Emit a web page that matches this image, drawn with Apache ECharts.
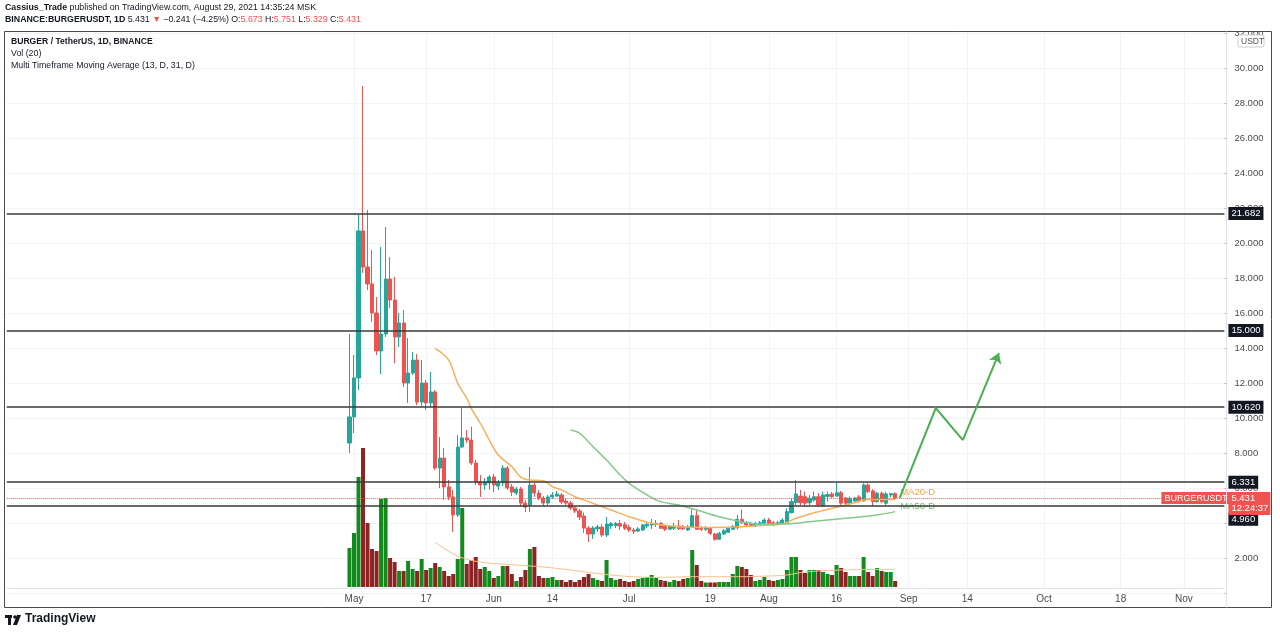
<!DOCTYPE html>
<html><head><meta charset="utf-8">
<script src="https://cdn.jsdelivr.net/npm/echarts@6/dist/echarts.min.js"></script>
<style>html,body{margin:0;padding:0;background:#fff;overflow:hidden}#c{width:1280px;height:633px}</style>
</head><body><div id="c"></div>
<script>
// ---- axis domain ----
const axisStart = '2021-02-13';
const axisDays = 271;
const firstCandle = '2021-04-30';
const timeTicks = [['2021-05-01','May'],['2021-05-17','17'],['2021-06-01','Jun'],['2021-06-14','14'],
  ['2021-07-01','Jul'],['2021-07-19','19'],['2021-08-01','Aug'],['2021-08-16','16'],['2021-09-01','Sep'],
  ['2021-09-14','14'],['2021-10-01','Oct'],['2021-10-18','18'],['2021-11-01','Nov']];

// ---- daily candles from 2021-04-30 to 2021-08-29 ----
const open = [8.57,10.06,12.29,20.69,18.63,17.66,16.00,13.83,14.80,17.94,16.74,14.63,15.43,12.00,12.57,13.31,10.91,12.00,10.86,11.49,
  7.14,7.71,6.06,5.49,4.46,8.34,8.86,8.74,7.43,6.34,6.17,6.29,6.63,6.11,6.29,7.14,6.06,5.71,5.94,5.14,
  5.03,6.17,5.71,5.43,5.14,5.49,5.54,5.60,5.26,5.14,4.86,4.69,4.40,3.71,3.37,3.66,3.77,3.31,3.83,3.85,
  3.97,3.90,3.75,3.60,3.54,3.60,3.83,3.89,3.92,3.98,3.81,3.65,3.70,3.83,3.79,3.60,3.77,4.42,3.73,3.64,
  3.70,3.37,3.07,3.37,3.47,3.64,3.73,4.21,4.02,3.98,3.83,3.92,3.98,4.17,4.02,3.94,3.98,4.02,4.59,5.17,
  5.54,5.50,5.16,5.31,5.50,4.97,5.52,5.66,5.54,5.73,5.43,5.13,5.26,5.49,5.27,6.17,5.83,5.22,5.70,5.13,
  5.60,5.673];
const high = [14.80,13.60,21.60,28.97,21.89,19.60,16.91,19.77,20.91,19.20,18.06,16.00,16.17,14.57,13.77,13.66,13.31,12.17,12.63,11.60,
  8.91,8.29,6.46,5.89,9.03,10.57,9.31,9.49,7.60,6.74,6.57,6.74,6.80,6.46,7.31,7.26,6.23,6.06,6.06,5.31,
  7.20,6.29,5.89,5.54,5.60,5.77,5.83,5.71,5.37,5.26,4.97,4.80,4.60,3.83,3.83,3.89,3.94,4.34,4.06,4.06,
  4.17,4.06,3.89,3.71,3.77,3.94,4.00,4.23,4.17,4.06,3.89,3.89,4.00,4.17,3.89,3.89,4.78,4.74,3.83,3.83,
  3.77,3.43,3.49,3.66,3.77,3.89,4.46,4.78,4.11,4.06,4.07,4.11,4.27,4.29,4.11,4.11,4.27,4.84,5.41,6.46,
  5.89,5.79,5.60,5.79,5.70,5.79,5.79,5.77,6.30,5.83,5.49,5.50,5.49,5.60,6.27,6.27,5.93,5.77,5.79,5.79,
  5.73,5.751];
const low = [8.00,9.14,11.60,18.29,17.31,15.49,13.60,12.51,14.63,16.29,13.14,14.06,11.77,10.86,12.46,10.74,10.69,10.46,10.63,7.03,
  6.00,5.31,5.31,3.49,4.34,8.29,8.57,7.31,6.17,5.49,5.89,5.89,5.77,5.89,6.11,5.89,5.54,5.60,4.91,4.63,
  4.63,5.49,5.31,4.97,5.03,5.37,5.49,5.09,5.03,4.74,4.57,4.17,3.43,2.91,3.09,3.49,3.20,3.20,3.66,3.71,
  3.60,3.60,3.49,3.37,3.49,3.54,3.71,3.66,3.77,3.66,3.54,3.60,3.60,3.60,3.60,3.54,3.70,3.60,3.54,3.54,
  3.31,2.99,3.03,3.31,3.43,3.60,3.64,3.94,3.83,3.77,3.79,3.83,3.89,3.89,3.83,3.89,3.94,3.98,4.55,5.03,
  5.03,4.93,5.03,5.22,4.93,4.91,5.22,5.43,5.49,5.03,4.97,5.03,5.14,5.16,5.22,5.70,4.97,5.16,5.13,5.03,
  5.47,5.329];
const close = [10.06,12.29,20.69,18.63,17.66,16.00,13.83,14.80,17.94,16.74,14.63,15.43,12.00,12.57,13.31,10.91,12.00,10.86,11.49,7.14,
  7.71,6.06,5.49,4.46,8.34,8.86,8.74,7.43,6.34,6.17,6.34,6.63,6.17,6.29,7.14,6.00,5.77,5.94,5.14,4.91,
  6.17,5.71,5.43,5.14,5.49,5.60,5.66,5.20,5.14,4.86,4.69,4.34,3.71,3.37,3.71,3.77,3.31,3.94,3.96,3.97,
  3.82,3.70,3.60,3.53,3.66,3.89,3.93,3.94,3.98,3.70,3.64,3.79,3.83,3.67,3.67,3.79,4.42,3.64,3.64,3.73,
  3.41,3.07,3.41,3.56,3.70,3.79,4.21,4.02,3.89,3.83,3.98,4.02,4.17,3.94,3.89,4.02,4.17,4.65,5.22,5.66,
  5.16,5.13,5.41,5.50,5.03,5.60,5.62,5.50,5.73,5.13,5.13,5.41,5.43,5.27,6.17,5.79,5.22,5.70,5.22,5.66,
  5.673,5.431];
// volume (millions)
const volume = [3.9,5.4,11.0,13.9,6.4,3.8,3.6,8.8,8.9,2.9,2.5,1.6,1.6,2.6,1.8,1.6,2.8,1.7,1.9,2.4,
  2.0,1.6,1.1,1.3,2.8,7.9,2.3,2.7,3.0,1.8,2.0,1.6,0.9,1.1,2.1,2.1,1.3,0.6,1.0,1.7,
  3.8,4.0,1.1,0.9,0.9,1.0,0.7,0.7,0.5,0.7,0.5,0.7,1.0,1.3,0.9,0.7,0.6,2.7,0.9,0.7,
  0.8,0.6,0.5,0.6,0.8,0.9,1.0,1.2,0.9,0.7,0.6,0.5,0.7,0.6,0.8,0.9,3.7,2.2,0.6,0.45,
  0.45,0.45,0.5,0.5,0.5,1.3,2.1,2.0,1.8,1.2,0.6,0.7,1.0,0.7,0.6,0.7,0.8,1.7,3.0,3.0,
  1.7,1.4,1.7,1.7,1.7,1.5,1.3,1.2,2.2,1.9,1.5,1.1,1.1,1.1,3.0,1.5,1.1,1.9,1.6,1.5,
  1.5,0.6];
// indicator lines
const volMa = [['2021-05-19',4.45],['2021-05-24',3.1],['2021-05-29',2.5],['2021-06-06',2.2],['2021-06-12',2.0],
  ['2021-06-18',1.7],['2021-06-23',1.4],['2021-07-01',1.05],['2021-07-08',0.97],['2021-07-15',1.03],['2021-07-24',1.03],
  ['2021-08-01',1.1],['2021-08-05',1.2],['2021-08-09',1.5],['2021-08-17',1.7],['2021-08-29',1.77]];
const ma20 = [['2021-05-19',13.98],['2021-05-22',13.31],['2021-05-24',11.98],['2021-05-26',11.13],['2021-05-27',10.55],
  ['2021-05-29',9.70],['2021-05-31',8.74],['2021-06-02',7.89],['2021-06-05',7.22],['2021-06-07',6.61],['2021-06-09',6.46],
  ['2021-06-12',6.42],['2021-06-14',6.08],['2021-06-16',5.89],['2021-06-19',5.50],['2021-06-22',5.22],['2021-06-25',4.93],
  ['2021-06-27',4.74],['2021-07-01',4.36],['2021-07-06',3.98],['2021-07-12',3.79],['2021-07-19',3.75],['2021-07-26',3.79],
  ['2021-08-01',3.89],['2021-08-04',3.94],['2021-08-07',4.27],['2021-08-12',4.65],['2021-08-16',4.90],['2021-08-20',5.16],
  ['2021-08-23',5.35],['2021-08-29',5.35]];
const ma50 = [['2021-06-18',9.31],['2021-06-20',9.13],['2021-06-23',8.36],['2021-06-26',7.60],['2021-06-29',6.74],
  ['2021-07-01',6.27],['2021-07-05',5.60],['2021-07-08',5.22],['2021-07-12',5.03],['2021-07-16',4.74],['2021-07-21',4.36],
  ['2021-07-26',4.07],['2021-07-30',3.94],['2021-08-04',3.94],['2021-08-10',4.07],['2021-08-18',4.27],['2021-08-25',4.46],
  ['2021-08-29',4.65]];
const projection = [['2021-08-30',5.43],['2021-09-07',10.57],['2021-09-13',8.74],['2021-09-21',13.71]];
const levels = [21.682, 15, 10.62, 6.331, 4.96];
const lastPrice = 5.431;
const countdown = '12:24:37';

// ---- build ----
const FONT = 'Liberation Sans, Arial, sans-serif';
const UP = '#26a69a', DOWN = '#ef5350', VUP = '#138a1c', VDOWN = '#8c2424';
const DAY = 86400000;
const t0 = Date.parse(axisStart + 'T00:00:00Z');
const categories = [];
for (let k = 0; k < axisDays; k++) categories.push(new Date(t0 + k * DAY).toISOString().slice(0, 10));
const startIdx = categories.indexOf(firstCandle);
const candleData = categories.map(() => '-');
const volData = categories.map(() => '-');
open.forEach((o, i) => {
  candleData[startIdx + i] = [o, close[i], low[i], high[i]];
  volData[startIdx + i] = { value: volume[i], itemStyle: { color: close[i] >= o ? VUP : VDOWN } };
});
const tickMap = Object.fromEntries(timeTicks);
const isTick = (idx, val) => tickMap[val] !== undefined;
const projCoords = projection.map(p => [categories.indexOf(p[0]), p[1]]);

const L = 6.74, R = 55.6;
const FS = 9.5;
const blackLabel = { show: true, position: 'end', distance: 4, backgroundColor: '#131722', color: '#fff',
  padding: [2, 3, 1, 3], fontSize: FS, fontFamily: FONT };
const levelData = levels.map(v => {
  const item = { yAxis: v, lineStyle: { color: '#3a3a3a', width: 1.5, type: 'solid' },
    label: Object.assign({}, blackLabel, { formatter: v.toFixed(3) }) };
  if (v === 4.96) {
    item.label = { show: true, position: 'end', distance: 4, formatter: '{e|}\n{a|' + v.toFixed(3) + '}',
      rich: { e: { height: 26 }, a: { backgroundColor: '#131722', color: '#fff', padding: [2, 3, 1, 3], fontSize: FS, fontFamily: FONT } } };
  }
  return item;
});
const redRich = { backgroundColor: DOWN, color: '#fff', fontSize: FS, fontFamily: FONT, width: 36, padding: [1, 3, 0, 3], height: 10 };

const chart = echarts.init(document.getElementById('c'), null, { width: 1280, height: 633 });
chart.setOption({
  animation: false,
  backgroundColor: '#fff',
  grid: [
    { left: L, right: R, top: 33, bottom: 40 },
    { left: L, right: R, top: 427, bottom: 46 },
    { left: L, right: R, top: 31, bottom: 45 }
  ],
  xAxis: [
    { type: 'category', gridIndex: 0, data: categories, boundaryGap: false, axisLine: { show: false }, axisTick: { show: false }, axisLabel: { show: false }, splitLine: { show: false } },
    { type: 'category', gridIndex: 1, data: categories, boundaryGap: false, axisLine: { show: false }, axisTick: { show: false }, axisLabel: { show: false }, splitLine: { show: false } },
    { type: 'category', gridIndex: 2, data: categories, boundaryGap: false,
      axisLine: { show: true, lineStyle: { color: '#e0e3eb' } }, axisTick: { show: false },
      axisLabel: { interval: isTick, formatter: v => tickMap[v] || '', color: '#4a4a4a', fontSize: 10, fontFamily: FONT, margin: 6 },
      splitLine: { show: true, interval: isTick, lineStyle: { color: '#f0f3fa', width: 1 } } }
  ],
  yAxis: [
    { type: 'value', gridIndex: 0, position: 'right', min: 0, max: 32, interval: 2, scale: false,
      axisLine: { show: false }, axisTick: { show: true, length: 3, lineStyle: { color: '#b2b5be' } },
      axisLabel: { formatter: v => v === 0 ? '' : v.toFixed(3), color: '#4a4a4a', fontSize: FS, fontFamily: FONT, margin: 10 },
      splitLine: { show: true, lineStyle: { color: '#f0f3fa' } } },
    { type: 'value', gridIndex: 1, min: 0, max: 16, show: false },
    { type: 'value', gridIndex: 2, min: 0, max: 1, show: false }
  ],
  series: [
    { name: 'Vol', type: 'bar', xAxisIndex: 1, yAxisIndex: 1, data: volData, barWidth: 4, z: 1 },
    { name: 'Vol MA', type: 'line', xAxisIndex: 1, yAxisIndex: 1, data: volMa, smooth: 0.4, showSymbol: false,
      lineStyle: { color: '#f6c08c', width: 1 }, z: 2 },
    { name: 'BURGERUSDT', type: 'candlestick', xAxisIndex: 0, yAxisIndex: 0, data: candleData, barWidth: 3.6, z: 3,
      itemStyle: { color: UP, color0: DOWN, borderColor: UP, borderColor0: DOWN, borderWidth: 1 },
      markLine: { symbol: 'none', silent: true, animation: false, data: levelData.concat([
        { yAxis: lastPrice, lineStyle: { color: DOWN, width: 1, type: 'dotted' },
          label: { show: true, position: 'end', distance: 4, formatter: '{e|}\n{a|' + lastPrice.toFixed(3) + '}\n{b|' + countdown + '}',
            rich: { e: { height: 11 }, a: redRich, b: Object.assign({}, redRich, { padding: [0, 3, 2, 3] }) } } },
        { yAxis: lastPrice, lineStyle: { color: 'rgba(0,0,0,0)', width: 0 },
          label: { show: true, position: 'insideEndTop', distance: -6, formatter: 'BURGERUSDT', backgroundColor: DOWN, color: '#fff',
            padding: [2, 3, 1, 3], fontSize: 9, fontFamily: FONT } }
      ]) } },
    { name: 'MA20-D', type: 'line', xAxisIndex: 0, yAxisIndex: 0, data: ma20, smooth: 0.35, showSymbol: false, z: 4,
      lineStyle: { color: '#f7b05b', width: 1.5 },
      endLabel: { show: true, distance: 5, formatter: '{a|MA20-D}\n{e|}',
        rich: { a: { color: '#f5a53d', fontSize: FS, fontFamily: FONT, lineHeight: 14 }, e: { height: 15 } } } },
    { name: 'MA50-D', type: 'line', xAxisIndex: 0, yAxisIndex: 0, data: ma50, smooth: 0.35, showSymbol: false, z: 4,
      lineStyle: { color: '#86c98a', width: 1.5 },
      endLabel: { show: true, distance: 5, formatter: '{a|MA50-D}\n{e|}',
        rich: { a: { color: '#6cbf70', fontSize: FS, fontFamily: FONT, lineHeight: 14 }, e: { height: 10 } } } },
    { name: 'Projection', type: 'lines', coordinateSystem: 'cartesian2d', xAxisIndex: 0, yAxisIndex: 0, polyline: true, z: 5,
      silent: true, lineStyle: { color: '#4caf50', width: 2, opacity: 1 },
      data: [{ coords: projCoords.slice(0, 3) }] },
    { name: 'Projection arrow', type: 'lines', coordinateSystem: 'cartesian2d', xAxisIndex: 0, yAxisIndex: 0, z: 5,
      silent: true, symbol: ['none', 'arrow'], symbolSize: 10, lineStyle: { color: '#4caf50', width: 2, opacity: 1, curveness: 0 },
      data: [{ coords: projCoords.slice(2, 4) }] }
  ],
  graphic: [
    { type: 'rect', z: 100, shape: { x: 1228, y: 18, width: 48, height: 13 }, style: { fill: '#fff' } },
    { type: 'rect', z: 100, shape: { x: 1227, y: 589, width: 16, height: 17 }, style: { fill: '#fff' } },
    { type: 'rect', z: 101, shape: { x: 4.5, y: 31.5, width: 1267, height: 576 }, style: { fill: 'none', stroke: '#4a4a4a', lineWidth: 1 } },
    { type: 'line', z: 101, shape: { x1: 1226.5, y1: 31.5, x2: 1226.5, y2: 607.5 }, style: { stroke: '#e0e3eb', lineWidth: 1 } },
    { type: 'rect', z: 102, shape: { x: 1238, y: 35, width: 26, height: 12, r: 2 }, style: { fill: '#fff', stroke: '#c9ccd4', lineWidth: 1 } },
    { type: 'text', z: 103, left: 1241, top: 37, style: { text: 'USDT', fill: '#555', font: '8.5px ' + FONT } },
    { type: 'text', z: 103, left: 5, top: 3, style: {
      text: '{b|Cassius_Trade}{n| published on TradingView.com, August 29, 2021 14:35:24 MSK}',
      rich: { b: { fontWeight: 'bold', fontSize: 8.8, fontFamily: FONT, fill: '#131722' }, n: { fontSize: 8.8, fontFamily: FONT, fill: '#131722' } } } },
    { type: 'text', z: 103, left: 5, top: 15, style: {
      text: '{b|BINANCE:BURGERUSDT, 1D}{n| 5.431 }{r|▼}{n| −0.241 (−4.25%) O:}{r|5.673}{n| H:}{r|5.751}{n| L:}{r|5.329}{n| C:}{r|5.431}',
      rich: { b: { fontWeight: 'bold', fontSize: 8.8, fontFamily: FONT, fill: '#131722' }, n: { fontSize: 8.8, fontFamily: FONT, fill: '#131722' },
        r: { fontSize: 8.8, fontFamily: FONT, fill: '#ef5350' } } } },
    { type: 'text', z: 103, left: 11, top: 37, style: {
      text: '{b|BURGER / TetherUS, 1D, BINANCE}\n{n|Vol (20)}\n{n|Multi Timeframe Moving Average (13, D, 31, D)}',
      rich: { b: { fontWeight: 'bold', fontSize: 8.6, fontFamily: FONT, fill: '#131722', lineHeight: 12 }, n: { fontSize: 8.8, fontFamily: FONT, fill: '#131722', lineHeight: 12 } } } },
    { type: 'group', z: 103, left: 5, top: 613, children: [
      { type: 'rect', shape: { x: 0, y: 1, width: 7, height: 3 }, style: { fill: '#131722' } },
      { type: 'rect', shape: { x: 3, y: 1, width: 3, height: 10 }, style: { fill: '#131722' } },
      { type: 'circle', shape: { cx: 10, cy: 3, r: 1.8 }, style: { fill: '#131722' } },
      { type: 'polygon', shape: { points: [[12, 1], [16, 1], [12, 11], [8, 11]] }, style: { fill: '#131722' } },
      { type: 'text', left: 20, top: -1, style: { text: 'TradingView', font: 'bold 12px ' + FONT, fill: '#131722' } }
    ] }
  ]
});
</script>
</body></html>
